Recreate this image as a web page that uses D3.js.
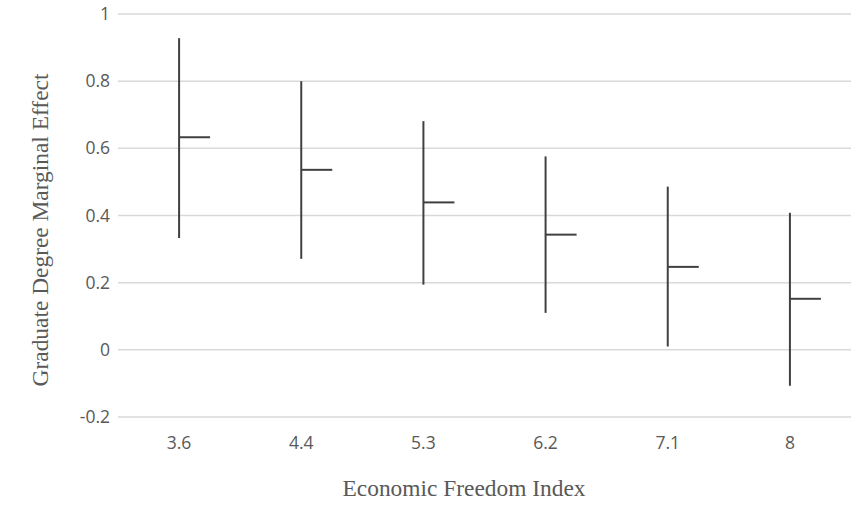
<!DOCTYPE html>
<html><head><meta charset="utf-8">
<script src="https://cdn.jsdelivr.net/npm/d3@7"></script>
<style>body{margin:0;background:#fff}</style>
</head><body>
<svg id="c" width="863" height="526"></svg>
<script>
const categories = ["3.6","4.4","5.3","6.2","7.1","8"];
const highs = [0.928,0.800,0.681,0.576,0.486,0.408];
const lows  = [0.333,0.271,0.194,0.110,0.010,-0.107];
const mids  = [0.633,0.536,0.439,0.343,0.247,0.152];
const yTicks = [-0.2,0,0.2,0.4,0.6,0.8,1];

const svg = d3.select("#c");
const plotLeft = 118, plotRight = 851;
const x = d3.scaleBand().domain(categories).range([plotLeft, plotRight]);
const y = d3.scaleLinear().domain([-0.2, 1]).range([417, 14]);

// gridlines
svg.append("g").selectAll("line").data(yTicks).join("line")
  .attr("x1", plotLeft).attr("x2", plotRight)
  .attr("y1", d => y(d)).attr("y2", d => y(d))
  .attr("stroke", "#d9d9d9").attr("stroke-width", 1.5);

// y labels
svg.append("g").selectAll("text").data(yTicks).join("text")
  .attr("x", 110).attr("y", d => y(d)).attr("dy", "0.35em")
  .attr("text-anchor", "end")
  .attr("font-family", "'Open Sans', sans-serif").attr("font-size", 17.5)
  .attr("fill", "#595959")
  .text(d => String(d));

// x labels
svg.append("g").selectAll("text").data(categories).join("text")
  .attr("x", d => x(d) + x.bandwidth()/2).attr("y", 443).attr("dy", "0.35em")
  .attr("text-anchor", "middle")
  .attr("font-family", "'Open Sans', sans-serif").attr("font-size", 17.5)
  .attr("fill", "#595959")
  .text(d => d);

const data = categories.map((c,i) => ({c, hi: highs[i], lo: lows[i], mid: mids[i]}));
const g = svg.append("g");
g.selectAll("line.v").data(data).join("line").attr("class","v")
  .attr("x1", d => x(d.c) + x.bandwidth()/2).attr("x2", d => x(d.c) + x.bandwidth()/2)
  .attr("y1", d => y(d.hi)).attr("y2", d => y(d.lo))
  .attr("stroke", "#404040").attr("stroke-width", 2);
g.selectAll("line.m").data(data).join("line").attr("class","m")
  .attr("x1", d => x(d.c) + x.bandwidth()/2).attr("x2", d => x(d.c) + x.bandwidth()/2 + 31)
  .attr("y1", d => y(d.mid)).attr("y2", d => y(d.mid))
  .attr("stroke", "#404040").attr("stroke-width", 2);

// axis titles
svg.append("text").attr("x", 464).attr("y", 488).attr("dy", "0.35em")
  .attr("text-anchor", "middle")
  .attr("font-family", "'Liberation Serif', 'Times New Roman', serif").attr("font-size", 23.4)
  .attr("fill", "#595959").text("Economic Freedom Index");
svg.append("text").attr("transform", "translate(40,230) rotate(-90)").attr("dy", "0.35em")
  .attr("text-anchor", "middle")
  .attr("font-family", "'Liberation Serif', 'Times New Roman', serif").attr("font-size", 23.4)
  .attr("fill", "#595959").text("Graduate Degree Marginal Effect");
</script>
</body></html>
